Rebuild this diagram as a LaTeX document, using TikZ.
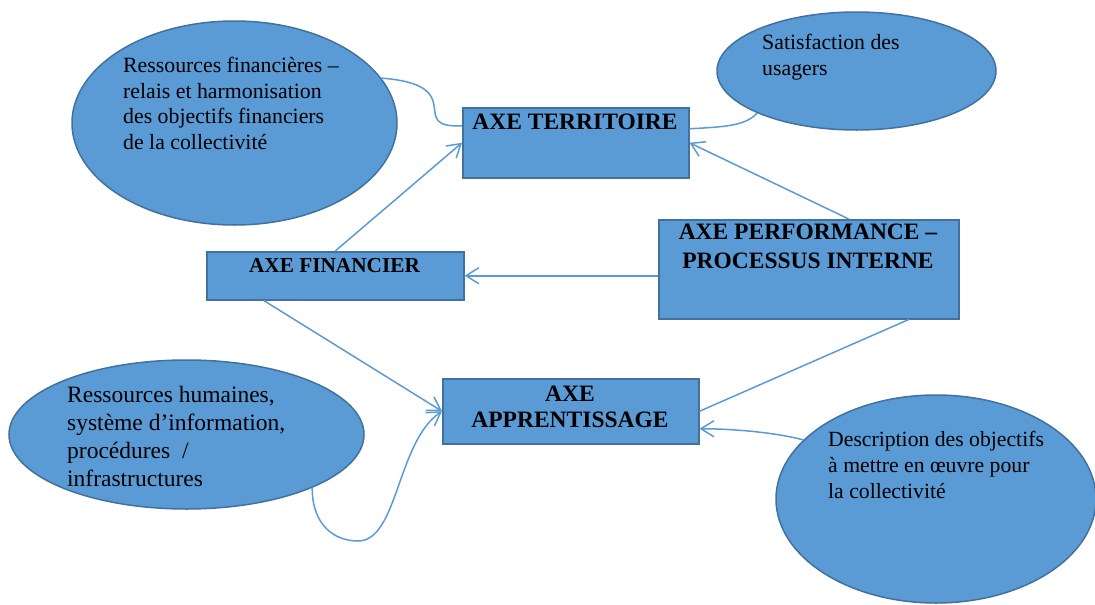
\documentclass[tikz,border=0pt]{standalone}
\usepackage{fontspec}
\setmainfont{Liberation Serif}
\usetikzlibrary{shapes.geometric,arrows.meta}
\definecolor{axefill}{HTML}{5B9BD5}
\definecolor{axeline}{HTML}{41719C}

\begin{document}
\begin{tikzpicture}[x=1pt,y=-1pt,
		axebox/.style={draw=axeline,fill=axefill,line width=1.5pt,inner sep=0pt,anchor=north west},
		bulle/.style={ellipse,draw=axeline,fill=axefill,line width=1.5pt,inner sep=0pt},
		titre/.style={anchor=north,inner sep=0pt,align=center,font=\fontsize{23.5}{27}\selectfont\bfseries},
		texte/.style={anchor=north west,inner sep=0pt,align=left,font=\fontsize{21.8}{25.5}\selectfont},
		lien/.style={draw=axefill,line width=1.5pt},
		fleche/.style={lien,-{Straight Barb[length=13pt,width=16pt]}}]
			\useasboundingbox (0,0) rectangle (1095,605);
			\node[bulle,minimum width=325pt,minimum height=204pt] (elfin) at (234.5,123) {};
			\node[bulle,minimum width=279pt,minimum height=118pt] (elsat) at (856.5,71) {};
			\node[bulle,minimum width=355pt,minimum height=149pt] (elhum) at (186.5,434.5) {};
			\node[bulle,minimum width=320pt,minimum height=208pt] (elobj) at (936,499) {};
			\node[axebox,minimum width=226pt,minimum height=70pt] (terr) at (462,107) {};
			\node[axebox,minimum width=257pt,minimum height=48pt] (fin) at (206,251) {};
			\node[axebox,minimum width=300pt,minimum height=99pt] (perf) at (658,219) {};
			\node[axebox,minimum width=256pt,minimum height=65pt] (app) at (442,378) {};
			\node[texte] (elfintxt) at (123,57) {Ressources financières –\\relais et harmonisation\\des objectifs financiers\\de la collectivité};
			\node[texte,font=\fontsize{21.8}{26}\selectfont] (elsattxt) at (762,34) {Satisfaction des\\usagers};
			\node[texte,font=\fontsize{23.5}{28}\selectfont] (elhumtxt) at (67,386) {Ressources humaines,\\système d’information,\\procédures\ \ /\\infrastructures};
			\node[texte,font=\fontsize{21.7}{26}\selectfont] (elobjtxt) at (828,431) {Description des objectifs\\à mettre en œuvre pour\\la collectivité};
			\node[titre] (terrtxt) at (575,114) {AXE TERRITOIRE};
			\node[titre,font=\fontsize{21.3}{26}\selectfont\bfseries] (fintxt) at (334.5,258.5) {AXE FINANCIER};
			\node[titre,font=\fontsize{23.5}{29}\selectfont\bfseries] (perftxt) at (808,224) {AXE PERFORMANCE –\\PROCESSUS INTERNE};
			\node[titre,font=\fontsize{23.5}{26}\selectfont\bfseries] (apptxt) at (570,386) {AXE\\APPRENTISSAGE};
			\coordinate (humbas) at (358,541);
			\path[lien] (elfin.17) .. controls +(90,7) and +(-57,3) .. ([yshift=17pt]terr.west);
			\path[lien] (elsat.203) .. controls +(-12,12) and +(40,-2) .. ([yshift=14pt]terr.east);
			\path ([xshift=100pt]perf.south) edge[lien] (app.east);
			\path (fin.north) edge[fleche] (terr.west)
				([xshift=40pt]perf.north) edge[fleche] (terr.east)
				([yshift=-6.5pt]perf.west) edge[fleche] (fin.east)
				([xshift=-71.5pt]fin.south) edge[fleche] (app.west);
			\path[fleche] (elobj.156) .. controls +(-30,-8) and +(30,0) .. ([yshift=-17.5pt]app.east);
			\path[fleche] (elhum.337) .. controls +(0,38) and +(-23,0) .. (humbas)
				.. controls +(40,0) and +(-45,30) .. (app.west);
\end{tikzpicture}
\end{document}
